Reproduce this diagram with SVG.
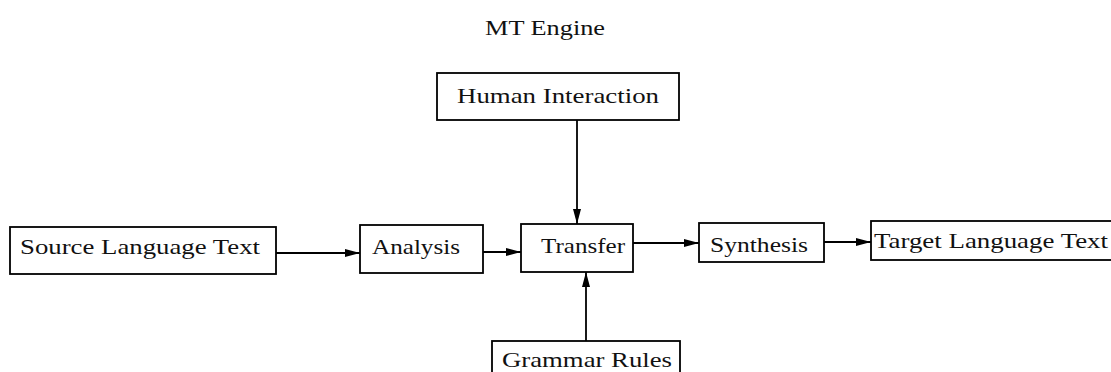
<svg xmlns="http://www.w3.org/2000/svg" width="1111" height="372" viewBox="0 0 1111 372">
  <defs>
    <marker id="arrow" markerWidth="15" markerHeight="10" refX="15" refY="5" orient="auto" markerUnits="userSpaceOnUse">
      <path d="M0,1 L15,5 L0,9 Z" fill="#000"/>
    </marker>
    <style>
      .box { fill: #fff; stroke: #000; stroke-width: 1.8; }
      .lbl { font-family: "Liberation Serif", "DejaVu Serif", serif; font-size: 22px; fill: #111; }
      .edge { stroke: #000; stroke-width: 1.8; fill: none; marker-end: url(#arrow); }
    </style>
  </defs>
  <rect width="1111" height="372" fill="#fff"/>

  <text class="lbl" x="485" y="35" textLength="120" lengthAdjust="spacingAndGlyphs">MT Engine</text>

  <g id="connectors">
    <line class="edge" x1="276" y1="253" x2="360" y2="253"/>
    <line class="edge" x1="483" y1="252" x2="521" y2="252"/>
    <line class="edge" x1="633" y1="243" x2="699" y2="243"/>
    <line class="edge" x1="824" y1="242" x2="871" y2="242"/>
    <line class="edge" x1="577" y1="120" x2="577" y2="224"/>
    <line class="edge" x1="586" y1="341" x2="586" y2="272"/>
  </g>

  <g id="source">
    <rect class="box" x="10" y="227" width="266" height="47"/>
    <text class="lbl" x="20" y="254" textLength="240" lengthAdjust="spacingAndGlyphs">Source Language Text</text>
  </g>
  <g id="analysis">
    <rect class="box" x="360" y="225" width="123" height="48"/>
    <text class="lbl" x="372" y="254" textLength="88" lengthAdjust="spacingAndGlyphs">Analysis</text>
  </g>
  <g id="transfer">
    <rect class="box" x="521" y="224" width="112" height="48"/>
    <text class="lbl" x="541" y="253" textLength="84" lengthAdjust="spacingAndGlyphs">Transfer</text>
  </g>
  <g id="synthesis">
    <rect class="box" x="699" y="223" width="125" height="39"/>
    <text class="lbl" x="710" y="252" textLength="98" lengthAdjust="spacingAndGlyphs">Synthesis</text>
  </g>
  <g id="target">
    <rect class="box" x="871" y="221" width="245" height="39"/>
    <text class="lbl" x="874" y="248" textLength="234" lengthAdjust="spacingAndGlyphs">Target Language Text</text>
  </g>
  <g id="human">
    <rect class="box" x="437" y="73" width="242" height="47"/>
    <text class="lbl" x="457" y="103" textLength="202" lengthAdjust="spacingAndGlyphs">Human Interaction</text>
  </g>
  <g id="grammar">
    <rect class="box" x="492" y="341" width="188" height="40"/>
    <text class="lbl" x="502" y="367" textLength="170" lengthAdjust="spacingAndGlyphs">Grammar Rules</text>
  </g>
</svg>
